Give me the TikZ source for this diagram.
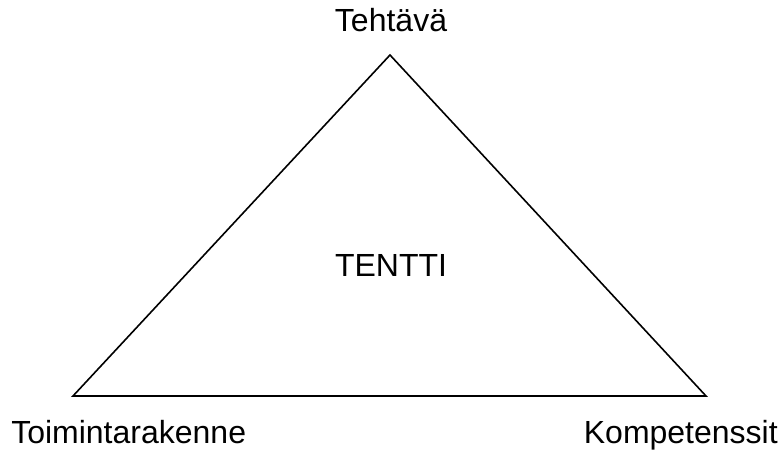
\documentclass[tikz,border=0pt]{standalone}
\usepackage{fontspec}
\setmainfont{Liberation Sans}

\begin{document}
\begin{tikzpicture}[x=0.75pt,y=-0.75pt,
        lbl/.style={inner sep=0pt,font=\fontsize{24}{28}\selectfont}]
        \useasboundingbox (0,0) rectangle (782,453);
        \coordinate (top) at (390,55);
        \coordinate (left) at (73,396);
        \coordinate (right) at (706,396);
        \draw[line width=1.2pt, line join=miter] (top) -- (right) -- (left) -- cycle;  % kolmio
        \node[lbl, anchor=base](teht) at (391,32)  {Tehtävä};
        \node[lbl, anchor=base](tentti) at (391,276)  {TENTTI};
        \node[lbl, anchor=base west](toim) at (11,443)  {Toimintarakenne};
        \node[lbl, anchor=base east](komp) at (778,443)  {Kompetenssit};

    \end{tikzpicture}
\end{document}
